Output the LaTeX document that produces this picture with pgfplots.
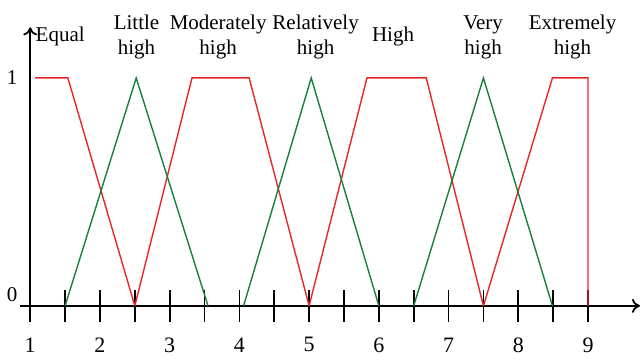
\documentclass[border=0pt]{standalone}
\usepackage{fontspec}
\setmainfont{Liberation Serif}
\usepackage{pgfplots}
\pgfplotsset{compat=1.18}
\usetikzlibrary{arrows.meta}
\definecolor{myred}{RGB}{232,40,40}
\definecolor{mygreen}{RGB}{25,128,60}
\begin{document}
\fontsize{10.5}{12.5}\selectfont
\begin{tikzpicture}[font=\fontsize{10.5}{12.5}\selectfont]
\begin{axis}[
  x=34.875pt, y=114pt,
  xmin=0.857, xmax=9.745, ymin=-0.1, ymax=1.25,
  axis x line=middle, axis y line=none,
  axis line style={line width=0.9pt, -{To[length=4pt,width=7pt]}},
  xtick={1,...,9}, minor xtick={1.5,2.5,...,8.5},
  major tick length=16pt, minor tick length=16pt,
  tick align=center,
  every major tick/.append style={line width=0.9pt, black},
  every minor tick/.append style={line width=0.9pt, black},
  ytick=\empty,
  /pgf/number format/assume math mode=true,
  xticklabel style={anchor=center, yshift=-11.5pt, font=\fontsize{11}{13}\selectfont},
  clip=false,
]
\addplot[myred, line width=0.7pt] coordinates {(1.07,1) (1.54,1) (2.5,0)};
\addplot[myred, line width=0.7pt] coordinates {(2.5,0) (3.32,1) (4.14,1) (5,0)};
\addplot[myred, line width=0.7pt] coordinates {(5,0) (5.83,1) (6.68,1) (7.5,0)};
\addplot[myred, line width=0.7pt] coordinates {(7.5,0) (8.49,1) (9,1) (9,0)};
\addplot[mygreen, line width=0.7pt] coordinates {(1.5,0) (2.52,1) (3.55,0)};
\addplot[mygreen, line width=0.7pt] coordinates {(4.06,0) (5.03,1) (6,0)};
\addplot[mygreen, line width=0.7pt] coordinates {(6.5,0) (7.5,1) (8.49,0)};
\draw[line width=0.9pt, -{To[length=4pt,width=7pt]}] (axis cs:1,0) -- (axis cs:1,1.222);
\node at (axis cs:0.742,1) {1};
\node at (axis cs:0.742,0.048) {0};
\node[align=center] at (axis cs:1.43,1.18) {Equal};
\node[align=center] at (axis cs:2.524,1.18) {Little\\high};
\node[align=center] at (axis cs:3.695,1.18) {Moderately\\high};
\node[align=center] at (axis cs:5.093,1.18) {Relatively\\high};
\node[align=center] at (axis cs:6.204,1.18) {High};
\node[align=center] at (axis cs:7.495,1.18) {Very\\high};
\node[align=center] at (axis cs:8.778,1.18) {Extremely\\high};
\path (axis cs:0.570,-0.2105) rectangle (axis cs:9.76,1.342);
\end{axis}
\end{tikzpicture}
\end{document}
